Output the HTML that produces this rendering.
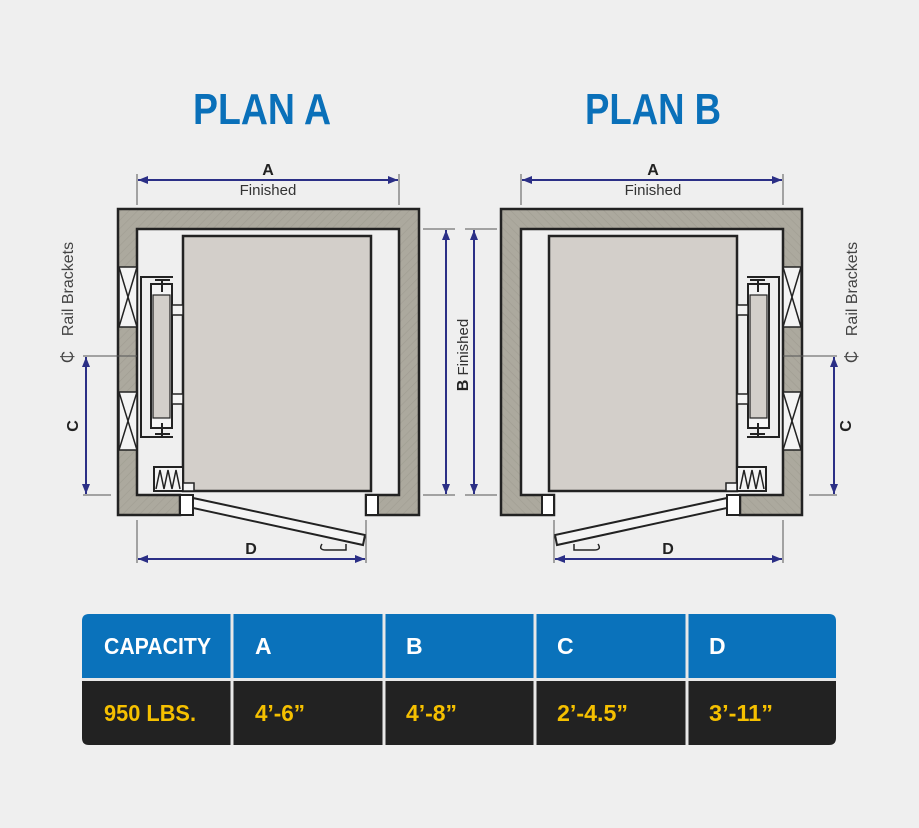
<!DOCTYPE html>
<html><head><meta charset="utf-8"><style>
html,body{margin:0;padding:0;}
body{width:919px;height:828px;background:#efefef;overflow:hidden;position:relative;font-family:"Liberation Sans",sans-serif;}
svg{position:absolute;left:0;top:0;}
</style></head><body>
<svg width="919" height="828" viewBox="0 0 919 828">
<defs>
<pattern id="h" width="6" height="6" patternUnits="userSpaceOnUse" patternTransform="rotate(45)">
<rect width="6" height="6" fill="#aca99e"/><line x1="0" y1="0" x2="0" y2="6" stroke="#a09d92" stroke-width="1.2"/>
</pattern>
<marker id="ar" markerWidth="10" markerHeight="8" refX="10" refY="4" orient="auto-start-reverse" markerUnits="userSpaceOnUse"><path d="M0,0 L10,4 L0,8 z" fill="#2b2f86"/></marker>
<g id="plan">
<path d="M118,209 H419 V515 H366 V495 H399 V229 H137 V495 H180 V515 H118 Z" fill="url(#h)" stroke="#222" stroke-width="2.5"/>
<g stroke="#222" stroke-width="1.5" fill="#f4f4f4">
<rect x="119" y="267" width="18" height="60"/><path d="M119,267 L137,327 M137,267 L119,327" fill="none"/>
<rect x="119" y="392" width="18" height="58"/><path d="M119,392 L137,450 M137,392 L119,450" fill="none"/>
</g>
<rect x="183" y="236" width="188" height="255" fill="#d3cfca" stroke="#222" stroke-width="2.5"/>
<path d="M173,277 H141 V437 H173" fill="none" stroke="#222" stroke-width="2"/>
<rect x="151" y="284" width="21" height="144" fill="#f4f4f4" stroke="#222" stroke-width="2"/>
<rect x="153" y="295" width="17" height="123" fill="#d3cfca" stroke="#222" stroke-width="1.2"/>
<path d="M162,279 V292 M155,280 H170 M162,423 V436 M155,434 H170" stroke="#222" stroke-width="2"/>
<rect x="172" y="305" width="11" height="10" fill="#f4f4f4" stroke="#222" stroke-width="1.5"/>
<rect x="172" y="394" width="11" height="10" fill="#f4f4f4" stroke="#222" stroke-width="1.5"/>
<rect x="154" y="467" width="29" height="24" fill="#f4f4f4" stroke="#222" stroke-width="2"/>
<path d="M156,489 L160,470 L164,489 L168,470 L172,489 L176,470 L180,489" fill="none" stroke="#222" stroke-width="1.5"/>
<rect x="183" y="483" width="11" height="8" fill="#f4f4f4" stroke="#222" stroke-width="1.5"/>
<rect x="180" y="495" width="13" height="20" fill="#fff" stroke="#222" stroke-width="2"/>
<rect x="366" y="495" width="12" height="20" fill="#fff" stroke="#222" stroke-width="2"/>
<path d="M193,498 L365,535 L363,545 L193,508 Z" fill="#f4f4f4" stroke="#222" stroke-width="2"/>
<path d="M322,544 Q318,550 326,550 H346 V544" fill="none" stroke="#222" stroke-width="1.5"/>
<line x1="83" y1="356" x2="137" y2="356" stroke="#555" stroke-width="1"/>
<line x1="83" y1="495" x2="111" y2="495" stroke="#555" stroke-width="1"/>
<line x1="86" y1="357" x2="86" y2="494" stroke="#2b2f86" stroke-width="2" marker-start="url(#ar)" marker-end="url(#ar)"/>
<line x1="137" y1="520" x2="137" y2="563" stroke="#555" stroke-width="1"/>
<line x1="366" y1="520" x2="366" y2="563" stroke="#555" stroke-width="1"/>
<line x1="138" y1="559" x2="365" y2="559" stroke="#2b2f86" stroke-width="2" marker-start="url(#ar)" marker-end="url(#ar)"/>
<line x1="137" y1="174" x2="137" y2="205" stroke="#555" stroke-width="1"/>
<line x1="399" y1="174" x2="399" y2="205" stroke="#555" stroke-width="1"/>
<line x1="138" y1="180" x2="398" y2="180" stroke="#2b2f86" stroke-width="2" marker-start="url(#ar)" marker-end="url(#ar)"/>
<line x1="423" y1="229" x2="455" y2="229" stroke="#555" stroke-width="1"/>
<line x1="423" y1="495" x2="455" y2="495" stroke="#555" stroke-width="1"/>
<line x1="446" y1="230" x2="446" y2="494" stroke="#2b2f86" stroke-width="2" marker-start="url(#ar)" marker-end="url(#ar)"/>
</g>
</defs>
<use href="#plan"/>
<use href="#plan" transform="translate(920,0) scale(-1,1)"/>

<g font-family="'Liberation Sans',sans-serif" font-weight="bold" fill="#0a70b9" font-size="44">
<text x="193" y="124" textLength="138" lengthAdjust="spacingAndGlyphs">PLAN A</text>
<text x="585" y="124" textLength="136" lengthAdjust="spacingAndGlyphs">PLAN B</text>
</g>
<g font-family="'Liberation Sans',sans-serif" fill="#222" text-anchor="middle">
<text x="268" y="175" font-size="16" font-weight="bold">A</text>
<text x="268" y="195" font-size="15" fill="#333">Finished</text>
<text x="653" y="175" font-size="16" font-weight="bold">A</text>
<text x="653" y="195" font-size="15" fill="#333">Finished</text>
<text x="251" y="554" font-size="16" font-weight="bold">D</text>
<text x="668" y="554" font-size="16" font-weight="bold">D</text>
<text transform="translate(78,426) rotate(-90)" font-size="16" font-weight="bold">C</text>
<text transform="translate(851,426) rotate(-90)" font-size="16" font-weight="bold">C</text>
<text transform="translate(468,355) rotate(-90)" font-size="15" fill="#333"><tspan font-weight="bold" font-size="16" fill="#222">B</tspan> Finished</text>
<text transform="translate(73,289) rotate(-90)" font-size="16" fill="#444">Rail Brackets</text>
<text transform="translate(857,289) rotate(-90)" font-size="16" fill="#444">Rail Brackets</text>
<text transform="translate(73,357) rotate(-90)" font-size="17" fill="#444">₵</text>
<text transform="translate(857,357) rotate(-90)" font-size="17" fill="#444">₵</text>
</g>

<rect x="82" y="614" width="754" height="131" rx="7" fill="#e8e8e8"/>
<path d="M89,614 H829 Q836,614 836,621 V678 H82 V621 Q82,614 89,614 Z" fill="#0a72bb"/>
<path d="M82,681 H836 V738 Q836,745 829,745 H89 Q82,745 82,738 Z" fill="#222"/>
<g stroke="#e8e8e8" stroke-width="3">
<line x1="82" y1="679.5" x2="836" y2="679.5"/>
<line x1="232" y1="614" x2="232" y2="745"/>
<line x1="384" y1="614" x2="384" y2="745"/>
<line x1="535" y1="614" x2="535" y2="745"/>
<line x1="687" y1="614" x2="687" y2="745"/>
</g>
<g font-family="'Liberation Sans',sans-serif" font-weight="bold" font-size="23" lengthAdjust="spacingAndGlyphs">
<g fill="#fff">
<text x="104" y="654" textLength="107" lengthAdjust="spacingAndGlyphs">CAPACITY</text>
<text x="255" y="654">A</text>
<text x="406" y="654">B</text>
<text x="557" y="654">C</text>
<text x="709" y="654">D</text>
</g>
<g fill="#f5c000">
<text x="104" y="721" textLength="92" lengthAdjust="spacingAndGlyphs">950 LBS.</text>
<text x="255" y="721" textLength="50" lengthAdjust="spacingAndGlyphs">4’-6”</text>
<text x="406" y="721" textLength="51" lengthAdjust="spacingAndGlyphs">4’-8”</text>
<text x="557" y="721" textLength="71" lengthAdjust="spacingAndGlyphs">2’-4.5”</text>
<text x="709" y="721" textLength="64" lengthAdjust="spacingAndGlyphs">3’-11”</text>
</g>
</g>
</svg>
</body></html>
